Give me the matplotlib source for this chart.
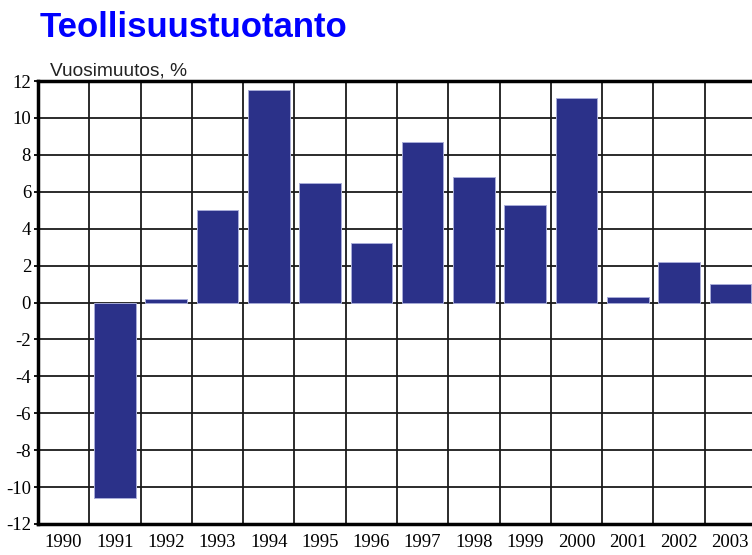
import numpy as np
from matplotlib import pyplot as plt

# Annual change in industrial production, %
years = ['1990', '1991', '1992', '1993', '1994', '1995', '1996',
         '1997', '1998', '1999', '2000', '2001', '2002', '2003']
changes = [np.nan, -10.6, 0.2, 5.0, 11.5, 6.5, 3.2,
           8.7, 6.8, 5.3, 11.1, 0.3, 2.2, 1.0]

bar_color = '#2B3189'
tick_font = 'Liberation Serif'

plt.rcParams['axes.unicode_minus'] = False

fig = plt.figure(figsize=(7.52, 5.55), dpi=100)
ax = fig.add_axes([38 / 752, 31 / 555, 718 / 752, 443 / 555])

x = np.arange(len(years))
ax.bar(x, changes, width=0.81, color=bar_color, edgecolor='#A8ACD8',
       linewidth=0.7, zorder=3)

ax.set_xlim(-0.5, len(years) - 0.5)
ax.set_ylim(-12, 12)

# Grid: vertical lines between categories, horizontal every 2
ax.set_xticks(x)
ax.set_xticklabels(years)
ax.set_xticks(np.arange(-0.5, len(years), 1), minor=True)
ax.set_yticks(np.arange(-12, 13, 2))
ax.grid(which='minor', axis='x', color='#1a1a1a', linewidth=1.3, zorder=1)
ax.grid(which='major', axis='y', color='#1a1a1a', linewidth=1.3, zorder=1)
ax.grid(which='major', axis='x', visible=False)

ax.tick_params(axis='x', which='both', length=0, pad=7)
ax.tick_params(axis='y', length=3, width=1.3, pad=2)
for lbl in ax.get_xticklabels() + ax.get_yticklabels():
    lbl.set_fontfamily(tick_font)
    lbl.set_fontsize(13.5)

for side in ['left', 'top', 'bottom']:
    ax.spines[side].set_linewidth(2.5)
    ax.spines[side].set_zorder(4)
ax.spines['right'].set_visible(False)

fig.text(40 / 752, 1 - 37 / 555, 'Teollisuustuotanto', color='#0000FF',
         fontsize=25, fontweight='bold', family='Liberation Sans',
         va='baseline', ha='left')
fig.text(50 / 752, 1 - 75 / 555, 'Vuosimuutos, %', color='#222222',
         fontsize=13.8, family='Liberation Sans', va='baseline', ha='left')

fig.savefig('out.png', dpi=100)
